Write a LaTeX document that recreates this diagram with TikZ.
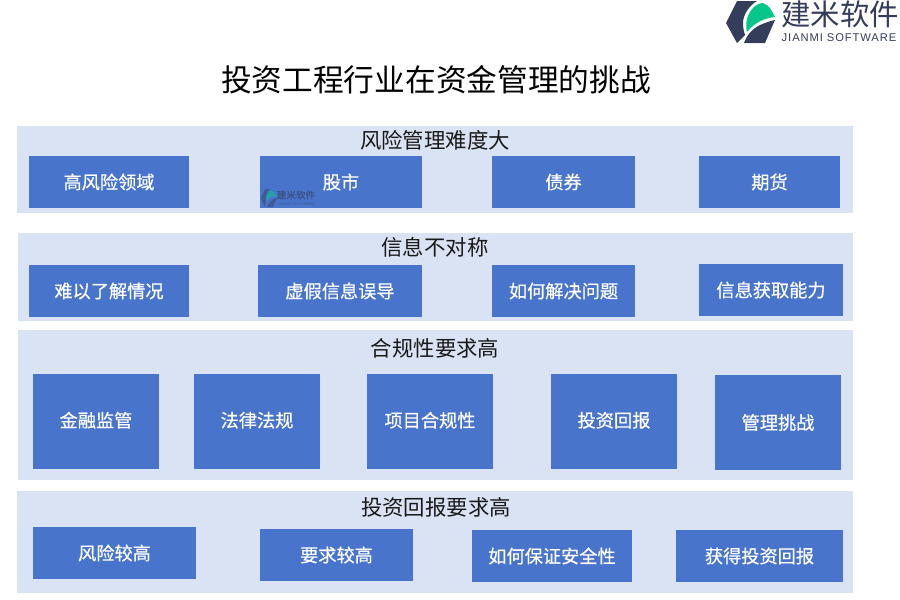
\documentclass[tikz,border=0pt]{standalone}
\usepackage{xcolor}
\usepackage{fontspec}
\setmainfont{Noto Sans CJK SC}
\newfontfamily\cellfont[FakeBold=0.5]{Noto Sans CJK SC}
\newfontfamily\latinfont[LetterSpace=8]{Liberation Sans}
\definecolor{panelblue}{HTML}{DAE3F3}
\definecolor{cellblue}{HTML}{4874CB}
\definecolor{logodark}{HTML}{343D5A}
\definecolor{logogreen}{HTML}{05C78A}
\newcommand{\liftup}[1]{\raisebox{4pt}{#1}}
\tikzset{
    panel/.style={fill=panelblue, anchor=north west, inner sep=0pt},
    cell/.style={fill=cellblue, text=white, anchor=center, inner sep=0pt, font=\cellfont\fontsize{18.2}{20}\selectfont},
    heading/.style={font=\fontsize{21.4}{24}\selectfont, text=black!90}
}

\begin{document}
\begin{tikzpicture}[x=1pt,y=-1pt]
    \useasboundingbox (0,0) rectangle (900,600);

    % panels
    \foreach \x/\y/\w/\h/\name in {17/126/836/87/pa,18/233/835/88/pb,18/330/835/150/pc,17/491/836/102/pd}
        \node[panel, minimum width=\w pt, minimum height=\h pt] (\name) at (\x,\y) {};

    % panel titles
    \node[heading] (ta) at (435,140) {风险管理难度大};
    \node[heading] (tb) at (435,247) {信息不对称};
    \node[heading] (tc) at (435,348) {合规性要求高};
    \node[heading] (td) at (436,507) {投资回报要求高};

    % cells, left top corner and size
    \foreach \x/\y/\w/\h/\name/\txt in {
        29/156/160/52/a1/高风险领域, 260/156/162/52/a2/股市, 492/156/143/52/a3/债券, 699/156/141/52/a4/期货,
        29/265/160/52/b1/难以了解情况, 258/265/164/52/b2/虚假信息误导, 492/265/143/52/b3/如何解决问题, 699/264/144/52/b4/信息获取能力,
        33/374/126/95/c1/\liftup{金融监管}, 194/374/126/95/c2/\liftup{法律法规}, 367/374/126/95/c3/\liftup{项目合规性}, 551/374/126/95/c4/\liftup{投资回报}, 715/375/126/95/c5/管理挑战,
        33/527/163/52/d1/风险较高, 260/529/153/52/d2/要求较高, 472/530/160/52/d3/如何保证安全性, 676/530/167/52/d4/获得投资回报}
        \node[cell, minimum width=\w pt, minimum height=\h pt] (\name) at (\x+\w/2,\y+\h/2) {\txt};

    % title
    \node[font=\fontsize{30.7}{34}\selectfont, text=black] (title) at (436,80) {投资工程行业在资金管理的挑战};

    % logo
    \fill[logodark] (726,23) -- (737,1) -- (757,1) .. controls (750,5) and (743,14) .. (743,23) .. controls (743,28) and (744,32) .. (745,35) -- (737,43) -- cycle;
    \fill[logodark] (744,43) .. controls (747,35) and (752,29) .. (760,25) .. controls (765,23) and (770,21) .. (775,20) -- (765,43) -- cycle;
    \fill[logogreen] (747,32) .. controls (745,24) and (747,14) .. (753,8) .. controls (756,5) and (759,3) .. (763,3) .. controls (766,4) and (768,6) .. (770,8) -- (775,17) .. controls (765,18) and (755,22) .. (747,32) -- cycle;
    \node[font=\fontsize{29.4}{30}\selectfont, text=logodark] (logotext) at (840,14) {建米软件};
    \node[font=\latinfont\fontsize{11.2}{12}\selectfont, text=logodark] (logosub) at (839,38) {JIANMI SOFTWARE};

    % watermark
    \fill[logodark, opacity=0.45] (261,198) -- (265,189) -- (270,189) .. controls (267,192) and (265,196) .. (266,201) -- (265,207) -- cycle;
    \fill[logodark, opacity=0.45] (267,207) .. controls (268,203) and (272,199) .. (277,198) -- (273,207) -- cycle;
    \fill[logogreen!55!cellblue] (266,201) .. controls (266,196) and (268,191) .. (272,190) -- (277,196) .. controls (272,196) and (268,198) .. (266,201) -- cycle;
    \node[font=\cellfont\fontsize{9.6}{11}\selectfont, text=logodark, opacity=0.55] (marktext) at (296,195) {建米软件};
    \node[font=\latinfont\fontsize{3.6}{4}\selectfont, text=logodark, opacity=0.55] (marksub) at (296,204) {JIANMI SOFTWARE};
\end{tikzpicture}
\end{document}
